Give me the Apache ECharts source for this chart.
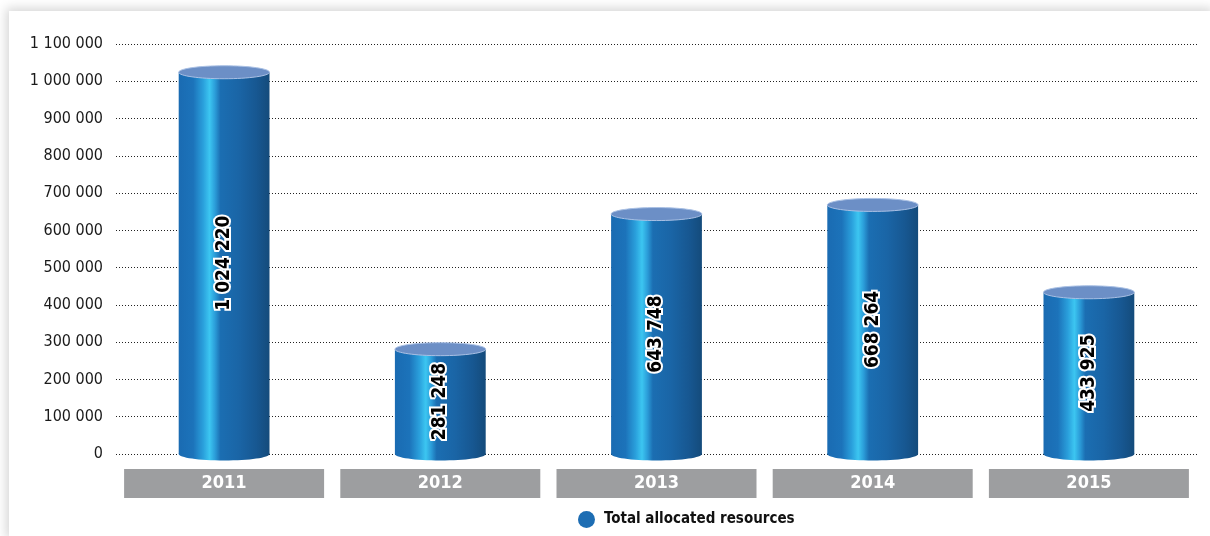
<!DOCTYPE html>
<html>
<head>
<meta charset="utf-8">
<title>Total allocated resources</title>
<script src="https://cdn.jsdelivr.net/npm/echarts@6/dist/echarts.min.js"></script>
<style>
  html, body { margin: 0; padding: 0; background: #ffffff; width: 1210px; height: 536px; overflow: hidden; }
  #frame {
    position: absolute; left: 9px; top: 11px; width: 1201px; height: 525px;
    background: #ffffff; box-shadow: 0 0 10px 3px rgba(0,0,0,0.16);
  }
  #chart { width: 1201px; height: 525px; }
</style>
</head>
<body>
<div id="frame"><div id="chart"></div></div>
<script>
// Yearly totals
const years = ['2011', '2012', '2013', '2014', '2015'];
const allocated = [1024220, 281248, 643748, 668264, 433925];
const seriesName = 'Total allocated resources';

const FONT = "'DejaVu Sans Condensed', 'Liberation Sans Narrow', 'Roboto', sans-serif";

// "1100000" -> "1 100 000"
function spaced(v) {
  return String(v).replace(/\B(?=(\d{3})+(?!\d))/g, ' ');
}

const bodyFill = new echarts.graphic.LinearGradient(0, 0, 1, 0, [
  { offset: 0.00, color: '#1a6bb2' },
  { offset: 0.16, color: '#1c73ba' },
  { offset: 0.27, color: '#2aa0dc' },
  { offset: 0.34, color: '#3cc6f1' },
  { offset: 0.40, color: '#2b9dd9' },
  { offset: 0.46, color: '#1b6eb2' },
  { offset: 0.66, color: '#1a65a6' },
  { offset: 0.86, color: '#175791' },
  { offset: 1.00, color: '#144b7b' }
]);

// Cylinder: body + bottom cap + lighter top cap, with the value written vertically
function renderCylinder(params, api) {
  const cat = api.value(0);
  const val = api.value(1);
  const top = api.coord([cat, val]);
  const base = api.coord([cat, 0]);
  const w = api.size([1, 0])[0] * 0.42;
  const rx = w / 2;
  const ry = 6.5;
  const cx = top[0];
  return {
    type: 'group',
    children: [
      { type: 'ellipse', shape: { cx: cx, cy: base[1], rx: rx, ry: ry }, style: { fill: bodyFill } },
      { type: 'rect', shape: { x: cx - rx, y: top[1], width: w, height: base[1] - top[1] }, style: { fill: bodyFill } },
      { type: 'ellipse', shape: { cx: cx, cy: top[1], rx: rx, ry: ry },
        style: { fill: '#6c8fc6', stroke: '#a9c0e4', lineWidth: 1 } },
      { type: 'text', x: cx, y: (top[1] + base[1]) / 2, rotation: Math.PI / 2, z2: 10,
        style: {
          text: spaced(val), fill: '#000000', stroke: '#ffffff', lineWidth: 4,
          font: 'bold 19px ' + FONT, align: 'center', verticalAlign: 'middle'
        } }
    ]
  };
}

const chart = echarts.init(document.getElementById('chart'), null, { renderer: 'canvas' });
chart.setOption({
  animation: false,
  color: ['#1d6db3'],
  grid: { left: 107, right: 13, top: 33, bottom: 82, containLabel: false },
  legend: {
    data: [seriesName],
    left: 569, top: 500, padding: 0,
    icon: 'circle', itemWidth: 17, itemHeight: 17, itemGap: 8,
    textStyle: { color: '#111111', fontFamily: FONT, fontWeight: 'bold', fontSize: 15, padding: [0, 0, 0, 4] }
  },
  xAxis: {
    type: 'category',
    data: years,
    axisLine: { show: false },
    axisTick: { show: false },
    axisLabel: {
      margin: 15,
      formatter: function (v) { return '{b|' + v + '}'; },
      rich: {
        b: {
          width: 200, height: 29, lineHeight: 29, align: 'center',
          backgroundColor: '#9d9ea0', color: '#ffffff',
          fontFamily: FONT, fontWeight: 'bold', fontSize: 18
        }
      }
    }
  },
  yAxis: {
    type: 'value',
    min: 0, max: 1100000, interval: 100000,
    axisLine: { show: false },
    axisTick: { show: false },
    axisLabel: {
      margin: 13,
      color: '#1a1a1a',
      fontFamily: FONT, fontSize: 16,
      formatter: spaced
    },
    splitLine: { lineStyle: { color: '#222222', type: [1, 2], width: 1 } }
  },
  series: [{
    name: seriesName,
    type: 'custom',
    renderItem: renderCylinder,
    encode: { x: 0, y: 1 },
    data: allocated.map(function (v, i) { return [i, v]; })
  }]
});
</script>
</body>
</html>
